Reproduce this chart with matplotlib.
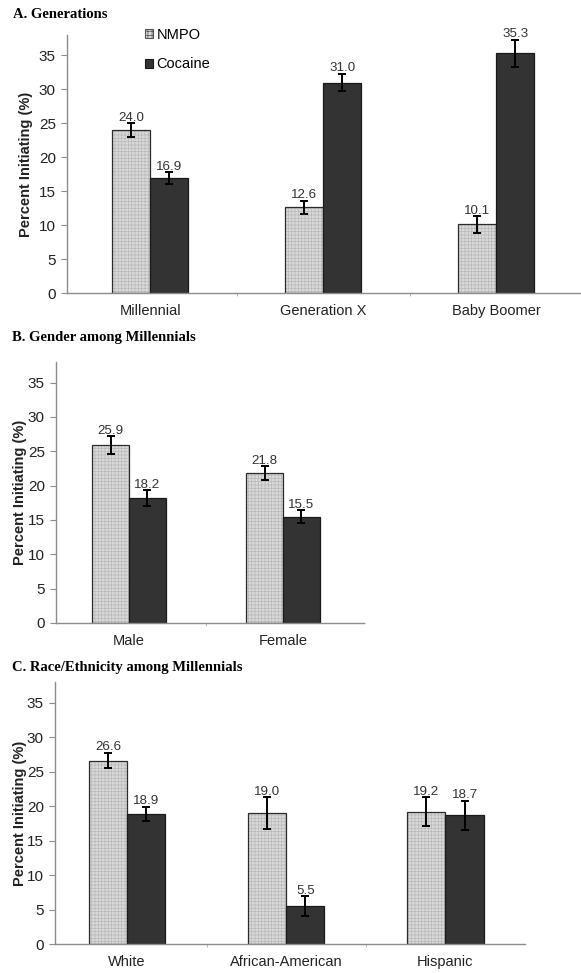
import matplotlib
matplotlib.use("Agg")
import matplotlib.pyplot as plt
import numpy as np
from matplotlib.patches import Patch

plt.rcParams['font.family'] = ['Liberation Sans', 'DejaVu Sans']
plt.rcParams['hatch.linewidth'] = 0.5

# Panel A: generations
gen_cats = ['Millennial', 'Generation X', 'Baby Boomer']
gen_nmpo = [24.0, 12.6, 10.1]
gen_nmpo_err = [1.0, 0.95, 1.2]
gen_coc = [16.9, 31.0, 35.3]
gen_coc_err = [0.85, 1.3, 2.0]

# Panel B: gender among millennials
sex_cats = ['Male', 'Female']
sex_nmpo = [25.9, 21.8]
sex_nmpo_err = [1.3, 1.0]
sex_coc = [18.2, 15.5]
sex_coc_err = [1.15, 0.9]

# Panel C: race/ethnicity among millennials
race_cats = ['White', 'African-American', 'Hispanic']
race_nmpo = [26.6, 19.0, 19.2]
race_nmpo_err = [1.1, 2.3, 2.05]
race_coc = [18.9, 5.5, 18.7]
race_coc_err = [1.0, 1.4, 2.1]

yticks = [0, 5, 10, 15, 20, 25, 30, 35]

W, H = 581, 973
fig = plt.figure(figsize=(W / 100, H / 100), dpi=100)

LIGHT = '#d9d9d9'
DARK = '#333333'
AXIS = '#8c8c8c'


def panel(rect, cats, nmpo, nmpo_err, coc, coc_err, xlim, width, ylab_x):
    ax = fig.add_axes(rect)
    x = np.arange(len(cats))
    xn = x - width / 2
    xc = x + width / 2
    # hatched fill, then outline on top
    ax.bar(xn, nmpo, width, color=LIGHT, edgecolor='#b8b8b8', hatch='+++++', linewidth=0)
    ax.bar(xn, nmpo, width, fill=False, edgecolor='#2a2a2a', linewidth=0.9)
    ax.bar(xc, coc, width, color=DARK, edgecolor='#1a1a1a', linewidth=0.9)
    ax.errorbar(xn, nmpo, yerr=nmpo_err, fmt='none', ecolor='black', elinewidth=1.4,
                capsize=2.6, capthick=1.4)
    ax.errorbar(xc, coc, yerr=coc_err, fmt='none', ecolor='black', elinewidth=1.4,
                capsize=2.6, capthick=1.4)
    for xs, vals, errs in ((xn, nmpo, nmpo_err), (xc, coc, coc_err)):
        for xi, v, e in zip(xs, vals, errs):
            ax.annotate('%.1f' % v, (xi, v + e), xytext=(0, 4), textcoords='offset points',
                        ha='center', va='center', fontsize=9.6, color='#333333')
    ax.set_xlim(*xlim)
    ax.set_ylim(0, 38)
    ax.set_yticks(yticks)
    ax.set_xticks(x)
    ax.set_xticklabels(cats, fontsize=10.5, color='#222222')
    ax.set_xticks(x[:-1] + 0.5, minor=True)
    ax.tick_params(axis='x', which='major', length=0, pad=8)
    ax.tick_params(axis='x', which='minor', length=2.5, color='#b0b0b0')
    ax.tick_params(axis='y', labelsize=11, length=4, color=AXIS, labelcolor='#222222', pad=4)
    for s in ('top', 'right'):
        ax.spines[s].set_visible(False)
    for s in ('left', 'bottom'):
        ax.spines[s].set_color(AXIS)
        ax.spines[s].set_linewidth(1.0)
    ax.set_ylabel('Percent Initiating (%)', fontsize=10.5, fontweight='bold', color='#222222')
    ax.yaxis.set_label_coords(ylab_x, 0.5)
    return ax


def frac(left, right, bottom, top):
    return [left / W, 1 - bottom / H, (right - left) / W, (bottom - top) / H]


axA = panel(frac(67, 581, 293, 35), gen_cats, gen_nmpo, gen_nmpo_err, gen_coc, gen_coc_err,
            (-0.48, 2.49), 0.22, -0.066)
axB = panel(frac(56, 364, 623, 362), sex_cats, sex_nmpo, sex_nmpo_err, sex_coc, sex_coc_err,
            (-0.474, 1.526), 0.24, -0.094)
axC = panel(frac(55, 525, 944, 682), race_cats, race_nmpo, race_nmpo_err, race_coc, race_coc_err,
            (-0.453, 2.5), 0.24, -0.060)

handles = [Patch(facecolor=LIGHT, edgecolor='#555555', hatch='++++', linewidth=0.8),
           Patch(facecolor=DARK, edgecolor='#1a1a1a', linewidth=0.8)]
fig.legend(handles, ['NMPO', 'Cocaine'], loc='upper left', bbox_to_anchor=(145 / W, 1 - 28 / H),
           frameon=False, fontsize=10.5, handlelength=0.55, handleheight=0.55,
           handletextpad=0.25, labelspacing=1.05, borderpad=0, borderaxespad=0)

title_kw = dict(fontsize=10.5, fontweight='bold', family='Liberation Serif', va='center', ha='left')
fig.text(13 / W, 1 - 15 / H, 'A. Generations', **title_kw)
fig.text(12 / W, 1 - 337 / H, 'B. Gender among Millennials', **title_kw)
fig.text(12 / W, 1 - 667 / H, 'C. Race/Ethnicity among Millennials', **title_kw)

fig.savefig('out.png', dpi=100)
